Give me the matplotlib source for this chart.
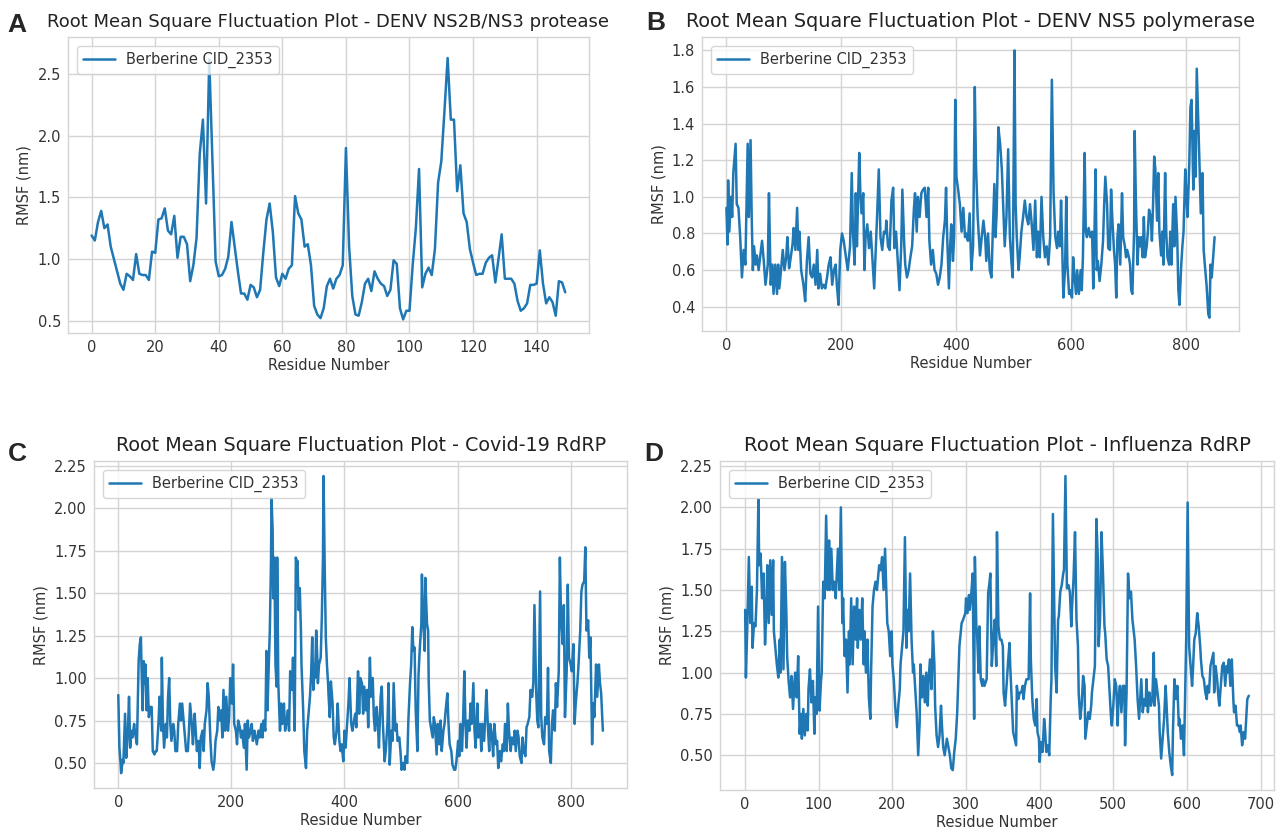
import numpy as np
import matplotlib
matplotlib.use('Agg')
import matplotlib.pyplot as plt
plt.style.use('seaborn-v0_8-whitegrid')
plt.rcParams['font.family'] = ['DejaVu Sans']

# A - DENV NS2B/NS3 protease (residues 0-149)
a_res = list(range(150))
a_rmsf = [1.19, 1.15, 1.30, 1.39, 1.25, 1.28, 1.10, 1.00, 0.90, 0.80,
          0.75, 0.88, 0.86, 0.83, 1.04, 0.88, 0.87, 0.87, 0.83, 1.06,
          1.05, 1.32, 1.33, 1.41, 1.23, 1.20, 1.35, 1.01, 1.18, 1.18,
          1.12, 0.82, 0.95, 1.17, 1.85, 2.13, 1.45, 2.62, 1.80, 0.98,
          0.86, 0.87, 0.92, 1.02, 1.30, 1.10, 0.90, 0.72, 0.72, 0.67,
          0.79, 0.77, 0.69, 0.75, 1.05, 1.32, 1.45, 1.22, 0.85, 0.78,
          0.88, 0.84, 0.92, 0.95, 1.51, 1.37, 1.32, 1.10, 1.12, 0.95,
          0.62, 0.55, 0.52, 0.60, 0.78, 0.84, 0.76, 0.84, 0.87, 0.95,
          1.90, 1.10, 0.70, 0.55, 0.54, 0.65, 0.80, 0.84, 0.74, 0.90,
          0.84, 0.80, 0.78, 0.70, 0.75, 0.99, 0.96, 0.60, 0.51, 0.58,
          0.58, 0.95, 1.25, 1.73, 0.77, 0.88, 0.93, 0.87, 1.08, 1.62,
          1.79, 2.20, 2.63, 2.13, 2.13, 1.55, 1.76, 1.37, 1.30, 1.08,
          0.97, 0.87, 0.88, 0.88, 0.97, 1.01, 1.03, 0.81, 1.00, 1.20,
          0.84, 0.84, 0.84, 0.80, 0.66, 0.58, 0.60, 0.64, 0.79, 0.79,
          0.80, 1.07, 0.80, 0.64, 0.69, 0.65, 0.54, 0.82, 0.81, 0.73]

# B - DENV NS5 polymerase
b_res = [0, 2, 3, 5, 8, 10, 12, 16, 18, 21, 24, 27, 30, 33, 37, 39, 42, 44, 46, 48,
         51, 53, 56, 59, 62, 65, 68, 72, 74, 77, 80, 82, 85, 88, 90, 92, 95, 98, 101, 104,
         106, 109, 111, 115, 117, 120, 123, 125, 127, 130, 134, 137, 140, 143, 146, 149, 152, 155, 158, 160,
         163, 166, 169, 172, 175, 178, 181, 184, 187, 190, 192, 195, 198, 201, 204, 208, 211, 215, 218, 220,
         223, 225, 227, 231, 233, 235, 238, 240, 242, 245, 248, 251, 253, 257, 260, 262, 265, 268, 271, 274,
         277, 278, 281, 284, 287, 290, 292, 295, 298, 301, 304, 306, 309, 311, 314, 317, 320, 323, 326, 328,
         331, 333, 336, 339, 342, 345, 348, 351, 353, 356, 359, 362, 365, 368, 371, 374, 377, 380, 382, 384,
         387, 389, 391, 394, 396, 398, 400, 403, 406, 409, 412, 415, 417, 420, 423, 426, 429, 432, 434, 437,
         439, 441, 444, 447, 450, 452, 455, 458, 461, 463, 466, 468, 470, 473, 476, 479, 482, 484, 487, 490,
         493, 496, 498, 501, 503, 505, 508, 510, 513, 516, 519, 522, 525, 528, 531, 534, 537, 540, 542, 545,
         548, 551, 554, 557, 560, 563, 566, 569, 572, 575, 577, 580, 582, 584, 586, 589, 591, 593, 596, 598,
         601, 603, 605, 608, 610, 613, 616, 618, 620, 623, 625, 627, 630, 633, 636, 638, 640, 642, 644, 646,
         649, 652, 655, 657, 659, 662, 664, 667, 669, 671, 674, 676, 678, 680, 682, 685, 688, 690, 693, 695,
         697, 700, 702, 704, 706, 709, 710, 712, 715, 717, 719, 721, 724, 726, 728, 731, 733, 735, 738, 740,
         742, 744, 746, 749, 751, 753, 756, 758, 760, 763, 765, 767, 770, 772, 774, 777, 779, 781, 784, 786,
         788, 791, 793, 795, 798, 800, 802, 805, 807, 809, 812, 814, 816, 818, 821, 823, 825, 828, 830, 832,
         835, 836, 838, 840, 842, 844, 846, 849]
b_rmsf = [0.94, 0.74, 1.09, 0.81, 1.00, 0.89, 1.13, 1.29, 0.96, 0.94, 0.78, 0.56, 0.71, 0.63, 1.29, 0.89, 1.31, 0.89, 0.60, 0.73,
          0.63, 0.68, 0.60, 0.68, 0.76, 0.65, 0.52, 0.63, 1.02, 0.52, 0.63, 0.47, 0.63, 0.47, 0.63, 0.50, 0.60, 0.71, 0.60, 0.67,
          0.78, 0.61, 0.65, 0.74, 0.83, 0.71, 0.94, 0.71, 0.81, 0.60, 0.52, 0.43, 0.65, 0.78, 0.58, 0.56, 0.63, 0.52, 0.71, 0.50,
          0.58, 0.50, 0.52, 0.50, 0.56, 0.63, 0.67, 0.52, 0.60, 0.63, 0.52, 0.41, 0.71, 0.80, 0.76, 0.67, 0.60, 0.73, 1.13, 0.81,
          0.63, 1.02, 0.73, 1.24, 1.02, 0.91, 1.02, 0.60, 0.78, 0.85, 0.72, 0.81, 0.71, 0.50, 0.73, 0.89, 1.15, 0.78, 0.71, 0.81,
          0.80, 0.87, 0.73, 0.71, 0.98, 1.05, 0.72, 0.81, 0.65, 0.49, 0.73, 1.04, 0.76, 0.63, 0.56, 0.60, 0.67, 0.73, 0.93, 1.02,
          0.81, 1.00, 0.89, 1.02, 1.04, 1.05, 0.89, 1.05, 0.76, 0.63, 0.71, 0.60, 0.58, 0.52, 0.56, 0.63, 0.78, 0.87, 1.05, 0.78,
          0.50, 0.72, 0.85, 0.65, 0.78, 1.53, 1.11, 1.04, 0.96, 0.81, 0.94, 0.78, 0.80, 0.76, 0.91, 0.60, 0.73, 1.60, 1.18, 0.89,
          0.78, 0.68, 0.78, 0.87, 0.78, 0.65, 0.80, 0.60, 0.56, 0.78, 1.07, 0.78, 0.91, 1.38, 1.29, 1.15, 0.89, 0.73, 0.89, 1.26,
          0.78, 0.63, 0.56, 1.80, 0.96, 0.78, 0.60, 0.67, 0.81, 0.89, 0.98, 0.89, 0.85, 0.96, 0.85, 0.71, 0.98, 0.67, 0.81, 0.67,
          1.00, 0.78, 0.67, 0.73, 0.63, 0.78, 1.64, 1.02, 0.78, 0.72, 0.81, 0.73, 0.98, 0.73, 0.45, 0.61, 1.00, 0.63, 0.47, 0.49,
          0.45, 0.67, 0.58, 0.47, 0.60, 0.47, 0.60, 0.49, 0.67, 1.24, 0.81, 0.78, 0.83, 0.78, 0.81, 0.50, 0.78, 1.15, 0.60, 0.65,
          0.54, 0.63, 0.76, 0.96, 1.11, 0.96, 0.72, 0.71, 1.04, 0.89, 0.71, 0.63, 0.45, 0.78, 0.85, 0.63, 1.02, 0.78, 0.73, 0.67,
          0.71, 0.67, 0.63, 0.49, 0.47, 0.81, 1.36, 1.00, 0.63, 0.78, 0.73, 0.78, 0.67, 0.89, 0.67, 0.73, 0.81, 0.93, 0.89, 0.76,
          0.96, 1.22, 1.15, 0.87, 1.13, 0.81, 0.68, 0.81, 0.63, 1.13, 0.80, 0.67, 0.63, 0.81, 0.63, 0.96, 0.73, 1.00, 0.78, 0.49,
          0.41, 0.63, 0.73, 0.81, 1.15, 1.00, 0.89, 1.18, 1.49, 1.53, 1.04, 1.36, 1.11, 1.70, 1.38, 1.15, 0.91, 1.13, 0.71, 0.63,
          0.52, 0.47, 0.36, 0.34, 0.63, 0.56, 0.65, 0.78]

# C - Covid-19 RdRP
c_res = [0, 2, 4, 5, 8, 9, 12, 14, 17, 19, 21, 23, 25, 28, 30, 33, 36, 38, 40, 41,
         43, 45, 47, 48, 50, 52, 54, 57, 59, 61, 64, 66, 68, 71, 73, 76, 77, 79, 81, 84,
         86, 88, 90, 92, 94, 97, 99, 101, 104, 106, 109, 111, 113, 116, 118, 120, 123, 125, 127, 130,
         132, 135, 137, 139, 142, 144, 146, 149, 151, 153, 156, 158, 160, 163, 165, 168, 170, 172, 175, 177,
         179, 182, 184, 186, 189, 191, 194, 196, 198, 201, 203, 205, 208, 210, 212, 215, 217, 219, 222, 224,
         227, 229, 231, 234, 236, 238, 241, 243, 245, 248, 250, 253, 255, 257, 260, 262, 264, 265, 268, 270,
         271, 273, 274, 276, 278, 280, 281, 283, 286, 288, 290, 293, 295, 297, 300, 302, 304, 307, 309, 312,
         314, 316, 317, 319, 321, 323, 324, 327, 329, 332, 334, 336, 339, 341, 343, 345, 346, 348, 350, 352,
         353, 355, 358, 360, 362, 363, 365, 367, 369, 371, 372, 374, 376, 379, 381, 383, 386, 388, 391, 393,
         395, 398, 400, 402, 405, 407, 409, 412, 414, 417, 419, 421, 424, 426, 428, 431, 433, 435, 438, 440,
         442, 445, 447, 450, 452, 454, 457, 459, 461, 464, 466, 468, 471, 473, 476, 478, 480, 483, 485, 487,
         490, 492, 494, 497, 499, 501, 504, 506, 508, 511, 513, 516, 518, 520, 522, 524, 526, 529, 531, 533,
         536, 537, 539, 542, 543, 546, 548, 549, 551, 553, 556, 558, 560, 563, 565, 568, 570, 572, 575, 577,
         579, 582, 584, 586, 589, 591, 594, 596, 598, 601, 603, 605, 608, 610, 612, 614, 616, 618, 621, 623,
         625, 628, 630, 632, 635, 637, 640, 642, 644, 647, 649, 651, 654, 656, 658, 661, 663, 665, 668, 670,
         672, 675, 677, 680, 682, 684, 687, 689, 691, 694, 696, 699, 701, 703, 706, 708, 710, 713, 715, 717,
         720, 722, 724, 727, 729, 732, 734, 736, 739, 741, 743, 746, 748, 750, 753, 755, 758, 760, 762, 765,
         767, 769, 772, 774, 776, 779, 781, 783, 786, 788, 790, 793, 795, 797, 800, 802, 805, 807, 809, 812,
         814, 817, 819, 821, 824, 826, 828, 831, 833, 835, 838, 840, 842, 845, 847, 850, 852, 854, 857]
c_rmsf = [0.90, 0.59, 0.50, 0.44, 0.52, 0.50, 0.79, 0.53, 0.69, 0.89, 0.59, 0.69, 0.65, 0.73, 0.67, 0.61, 1.10, 1.20, 1.24, 1.08,
          0.81, 1.10, 0.97, 1.08, 0.81, 1.00, 0.77, 0.83, 0.83, 0.57, 0.55, 0.57, 0.57, 0.73, 0.89, 0.69, 1.12, 0.73, 0.59, 0.73,
          0.65, 0.89, 1.00, 0.73, 0.63, 0.73, 0.69, 0.57, 0.57, 0.73, 0.85, 0.75, 0.85, 0.73, 0.65, 0.57, 0.57, 0.69, 0.85, 0.73,
          0.61, 0.79, 0.69, 0.57, 0.63, 0.47, 0.65, 0.69, 0.57, 0.73, 0.81, 0.97, 0.89, 0.63, 0.51, 0.46, 0.51, 0.63, 0.69, 0.83,
          0.75, 0.81, 0.65, 0.93, 0.69, 0.89, 0.69, 0.77, 1.00, 0.85, 1.08, 0.73, 0.69, 0.61, 0.75, 0.71, 0.65, 0.69, 0.59, 0.73,
          0.46, 0.75, 0.65, 0.69, 0.73, 0.63, 0.69, 0.65, 0.61, 0.69, 0.65, 0.73, 0.65, 0.75, 0.69, 1.16, 0.81, 0.95, 1.28, 1.67,
          2.06, 1.87, 1.47, 1.71, 1.08, 0.95, 1.71, 0.97, 0.69, 0.85, 0.73, 0.85, 0.69, 0.73, 0.81, 0.69, 1.04, 0.93, 1.12, 0.69,
          1.71, 1.67, 1.69, 1.40, 1.53, 1.28, 1.08, 0.81, 0.57, 0.47, 0.69, 0.77, 0.89, 1.02, 1.24, 0.93, 1.08, 1.00, 1.28, 1.12,
          0.97, 1.08, 1.12, 1.36, 1.71, 2.19, 1.67, 1.24, 1.08, 0.97, 0.89, 0.77, 0.98, 0.85, 0.65, 0.61, 0.69, 0.85, 0.63, 0.57,
          0.61, 0.51, 0.69, 0.59, 0.75, 0.85, 1.00, 0.73, 0.69, 0.75, 0.79, 0.71, 1.04, 0.79, 1.00, 0.97, 0.79, 0.95, 0.81, 0.93,
          0.71, 1.12, 0.89, 1.00, 0.77, 0.69, 0.83, 0.73, 0.59, 0.89, 0.95, 0.73, 0.51, 0.57, 0.73, 0.97, 0.49, 0.69, 0.63, 0.97,
          0.69, 0.73, 0.63, 0.65, 0.57, 0.46, 0.50, 0.46, 0.54, 0.50, 0.75, 0.97, 1.08, 1.30, 1.16, 1.18, 0.81, 0.57, 1.02, 1.16,
          1.32, 1.61, 1.36, 1.16, 1.59, 1.32, 1.28, 0.98, 0.75, 0.71, 0.65, 0.77, 0.73, 0.55, 0.73, 0.61, 0.75, 0.57, 0.69, 0.73,
          0.81, 0.91, 0.73, 0.61, 0.57, 0.49, 0.46, 0.46, 0.51, 0.63, 0.54, 0.73, 0.57, 0.77, 1.04, 0.73, 0.59, 0.75, 0.69, 0.85,
          0.73, 0.97, 0.69, 0.59, 0.85, 0.65, 0.73, 0.57, 0.73, 0.63, 0.77, 0.93, 0.69, 0.57, 0.73, 0.65, 0.54, 0.73, 0.61, 0.63,
          0.47, 0.57, 0.51, 0.61, 0.57, 0.73, 0.57, 0.85, 0.69, 0.57, 0.65, 0.61, 0.69, 0.57, 0.69, 0.65, 0.54, 0.50, 0.65, 0.57,
          0.54, 0.71, 0.73, 0.77, 0.93, 0.89, 0.97, 1.43, 0.93, 0.75, 0.71, 1.51, 0.77, 0.65, 0.61, 0.77, 0.73, 1.06, 0.57, 0.50,
          0.73, 0.81, 0.69, 0.97, 0.83, 1.04, 1.71, 1.36, 1.20, 1.43, 0.77, 1.04, 1.55, 1.12, 1.08, 1.04, 1.20, 0.73, 0.85, 0.97,
          1.08, 1.28, 1.51, 1.55, 1.57, 1.77, 1.28, 1.34, 1.12, 1.24, 0.61, 0.85, 0.77, 1.08, 0.89, 1.08, 0.97, 0.91, 0.69]

# D - Influenza RdRP
d_res = [0, 1, 3, 5, 7, 9, 10, 12, 14, 16, 18, 19, 21, 23, 25, 27, 29, 30, 32, 34,
         36, 38, 39, 41, 43, 45, 47, 48, 50, 52, 54, 56, 57, 59, 61, 63, 65, 67, 68, 70,
         72, 74, 76, 77, 79, 81, 83, 85, 86, 88, 90, 92, 94, 95, 97, 99, 101, 103, 104, 106,
         108, 110, 112, 114, 115, 117, 119, 121, 123, 124, 126, 128, 130, 132, 133, 135, 137, 139, 141, 142,
         144, 146, 148, 150, 152, 153, 155, 157, 159, 161, 162, 164, 166, 168, 170, 171, 173, 175, 177, 179,
         181, 182, 184, 186, 188, 190, 191, 193, 195, 197, 199, 200, 202, 204, 206, 208, 210, 211, 213, 215,
         217, 219, 220, 222, 224, 226, 228, 229, 231, 233, 235, 237, 238, 240, 242, 244, 246, 248, 249, 251,
         253, 255, 257, 258, 260, 262, 264, 266, 267, 269, 271, 274, 276, 278, 280, 282, 284, 286, 288, 291,
         294, 296, 299, 300, 302, 304, 305, 307, 309, 311, 312, 314, 315, 317, 318, 320, 322, 323, 325, 328,
         330, 332, 333, 335, 337, 339, 341, 342, 344, 346, 348, 350, 351, 353, 355, 357, 359, 360, 362, 364,
         366, 368, 369, 371, 373, 375, 377, 378, 380, 382, 385, 387, 388, 390, 392, 394, 396, 397, 399, 400,
         402, 404, 406, 407, 409, 411, 413, 415, 416, 418, 421, 423, 425, 426, 428, 430, 432, 433, 435, 437,
         439, 441, 443, 444, 446, 448, 450, 452, 453, 455, 457, 459, 461, 462, 464, 466, 468, 470, 471, 473,
         475, 477, 479, 480, 482, 484, 486, 488, 489, 491, 493, 495, 497, 498, 500, 502, 504, 506, 507, 509,
         511, 513, 515, 516, 518, 520, 522, 524, 526, 527, 529, 531, 533, 535, 536, 538, 540, 542, 544, 545,
         547, 549, 551, 553, 555, 556, 558, 560, 562, 563, 565, 567, 569, 571, 572, 574, 576, 578, 580, 581,
         583, 585, 587, 589, 590, 592, 594, 596, 598, 599, 601, 603, 605, 607, 608, 610, 612, 614, 616, 618,
         619, 621, 623, 625, 627, 628, 630, 632, 634, 636, 637, 639, 641, 643, 644, 646, 648, 650, 652, 654,
         655, 657, 659, 661, 663, 664, 666, 668, 670, 672, 673, 675, 677, 679, 681, 682, 684]
d_rmsf = [1.38, 0.97, 1.30, 1.70, 1.30, 1.52, 1.15, 1.30, 1.28, 1.50, 2.05, 1.65, 1.72, 1.45, 1.60, 1.17, 1.40, 1.65, 1.30, 1.68,
          1.35, 1.68, 1.25, 1.15, 1.05, 0.97, 1.20, 1.00, 1.70, 1.02, 1.67, 1.35, 1.10, 0.95, 0.85, 0.98, 0.78, 0.95, 1.00, 0.85,
          1.10, 0.63, 0.75, 0.60, 0.78, 0.62, 0.75, 0.65, 0.90, 1.02, 0.82, 0.95, 0.63, 0.85, 0.75, 1.40, 0.77, 0.95, 1.00, 1.55,
          1.45, 1.95, 1.50, 1.80, 1.50, 1.75, 1.50, 1.55, 1.45, 1.55, 1.75, 1.50, 2.00, 1.30, 1.45, 1.10, 1.20, 0.88, 1.25, 1.05,
          1.45, 1.05, 1.40, 1.20, 1.45, 1.15, 1.38, 1.20, 1.45, 1.05, 1.25, 1.00, 1.20, 0.85, 0.72, 1.00, 1.40, 1.50, 1.55, 1.50,
          1.60, 1.65, 1.62, 1.70, 1.50, 1.75, 1.60, 1.30, 1.25, 1.10, 1.25, 1.05, 0.95, 0.78, 0.67, 0.80, 0.90, 1.05, 1.15, 1.25,
          1.82, 1.15, 1.38, 1.25, 1.60, 1.20, 1.00, 1.05, 0.90, 0.75, 0.50, 0.70, 1.05, 0.85, 0.98, 0.82, 1.00, 0.80, 0.95, 1.08,
          0.90, 1.25, 1.05, 0.80, 0.62, 0.55, 0.62, 0.80, 0.70, 0.55, 0.50, 0.60, 0.55, 0.50, 0.42, 0.41, 0.52, 0.60, 0.76, 1.16,
          1.30, 1.32, 1.36, 1.45, 1.36, 1.47, 1.38, 1.47, 1.60, 0.72, 1.70, 1.28, 1.24, 1.00, 1.28, 0.96, 0.92, 0.96, 0.92, 0.96,
          1.48, 1.55, 1.60, 1.04, 1.20, 1.32, 1.04, 1.85, 1.28, 1.20, 1.20, 1.16, 0.88, 0.80, 0.92, 1.06, 1.18, 1.04, 0.84, 0.64,
          0.60, 0.56, 0.92, 0.84, 0.88, 0.88, 0.92, 0.84, 0.92, 0.96, 0.96, 1.48, 1.08, 0.84, 0.72, 0.68, 0.84, 0.64, 0.60, 0.46,
          0.58, 0.52, 0.72, 0.68, 0.52, 0.56, 0.50, 0.84, 0.96, 1.96, 1.04, 0.88, 1.32, 1.34, 1.49, 1.53, 1.60, 1.62, 2.19, 1.51,
          1.53, 1.49, 1.28, 1.40, 1.57, 1.85, 1.32, 1.16, 0.88, 0.72, 0.80, 0.98, 0.92, 0.60, 0.68, 0.76, 0.72, 0.80, 0.88, 0.96,
          1.04, 1.93, 1.69, 1.16, 1.32, 1.85, 1.60, 1.28, 1.24, 1.08, 1.04, 0.88, 0.72, 0.68, 0.80, 0.96, 0.92, 0.68, 0.84, 0.92,
          0.76, 0.92, 0.92, 0.56, 0.88, 1.60, 1.45, 1.49, 1.32, 1.28, 1.20, 1.04, 0.84, 0.72, 0.80, 0.96, 0.76, 0.84, 0.80, 0.96,
          0.76, 0.88, 0.80, 0.84, 1.12, 0.80, 0.96, 0.88, 0.80, 0.64, 0.48, 0.60, 0.72, 0.92, 0.84, 0.64, 0.52, 0.44, 0.38, 0.64,
          0.96, 0.84, 0.92, 0.68, 0.72, 0.60, 0.68, 0.50, 0.96, 1.20, 2.03, 1.16, 1.04, 0.92, 1.00, 1.20, 1.24, 1.36, 1.28, 1.16,
          1.08, 0.98, 0.96, 0.88, 0.84, 0.92, 0.88, 1.04, 1.08, 1.12, 0.88, 1.04, 0.96, 0.84, 0.80, 0.92, 1.04, 1.06, 0.92, 1.04,
          1.00, 1.08, 0.92, 1.08, 0.84, 0.76, 0.80, 0.68, 0.68, 0.64, 0.68, 0.56, 0.64, 0.60, 0.76, 0.84, 0.86]

label = 'Berberine CID_2353'
line_color = '#1f77b4'
grid_color = '#d4d4d4'
text_color = '#333333'

fig = plt.figure(figsize=(12.85, 8.36), dpi=100)

panels = [
    ('A', [0.0529, 0.6017, 0.4054, 0.354], a_res, a_rmsf,
     'Root Mean Square Fluctuation Plot - DENV NS2B/NS3 protease', 13,
     np.arange(0, 141, 20), np.arange(0.5, 2.6, 0.5), '{:.1f}', (0.40, 2.80)),
    ('B', [0.5463, 0.604, 0.4179, 0.3517], b_res, b_rmsf,
     'Root Mean Square Fluctuation Plot - DENV NS5 polymerase', 13.9,
     np.arange(0, 801, 200), np.arange(0.4, 1.81, 0.2), '{:.1f}', None),
    ('C', [0.0732, 0.0574, 0.4148, 0.391], c_res, c_rmsf,
     'Root Mean Square Fluctuation Plot - Covid-19 RdRP', 13.8,
     np.arange(0, 801, 200), np.arange(0.5, 2.26, 0.25), '{:.2f}', None),
    ('D', [0.5603, 0.055, 0.4311, 0.3935], d_res, d_rmsf,
     'Root Mean Square Fluctuation Plot - Influenza RdRP', 14.2,
     np.arange(0, 701, 100), np.arange(0.5, 2.26, 0.25), '{:.2f}', None),
]

for letter, rect, res, rmsf, title, tsize, xt, yt, fmt, ylim in panels:
    ax = fig.add_axes(rect)
    ax.plot(res, rmsf, color=line_color, lw=1.8, label=label)
    ax.set_xticks(xt)
    ax.set_yticks(yt)
    ax.set_yticklabels([fmt.format(v) for v in yt])
    if ylim is not None:
        ax.set_ylim(*ylim)
    ax.grid(True, color=grid_color, lw=1)
    for s in ax.spines.values():
        s.set_visible(True)
        s.set_color(grid_color)
        s.set_linewidth(1)
    ax.tick_params(labelsize=10.5, colors=text_color, length=0, pad=5)
    ax.set_title(title, fontsize=tsize, color='#222222', pad=7)
    ax.set_xlabel('Residue Number', fontsize=10.5, color=text_color, labelpad=2)
    ax.set_ylabel('RMSF (nm)', fontsize=10.5, color=text_color, labelpad=4)
    leg = ax.legend(loc='upper left', fontsize=10.5, frameon=True, handlelength=2.2,
                    borderaxespad=0.6)
    leg.get_frame().set_edgecolor('#cccccc')
    for t in leg.get_texts():
        t.set_color(text_color)

fig.text(0.006, 0.962, 'A', fontsize=19, fontweight='bold', family='Liberation Sans')
fig.text(0.503, 0.964, 'B', fontsize=19, fontweight='bold', family='Liberation Sans')
fig.text(0.006, 0.449, 'C', fontsize=19, fontweight='bold', family='Liberation Sans')
fig.text(0.501, 0.449, 'D', fontsize=19, fontweight='bold', family='Liberation Sans')

fig.savefig('out.png', dpi=100)
